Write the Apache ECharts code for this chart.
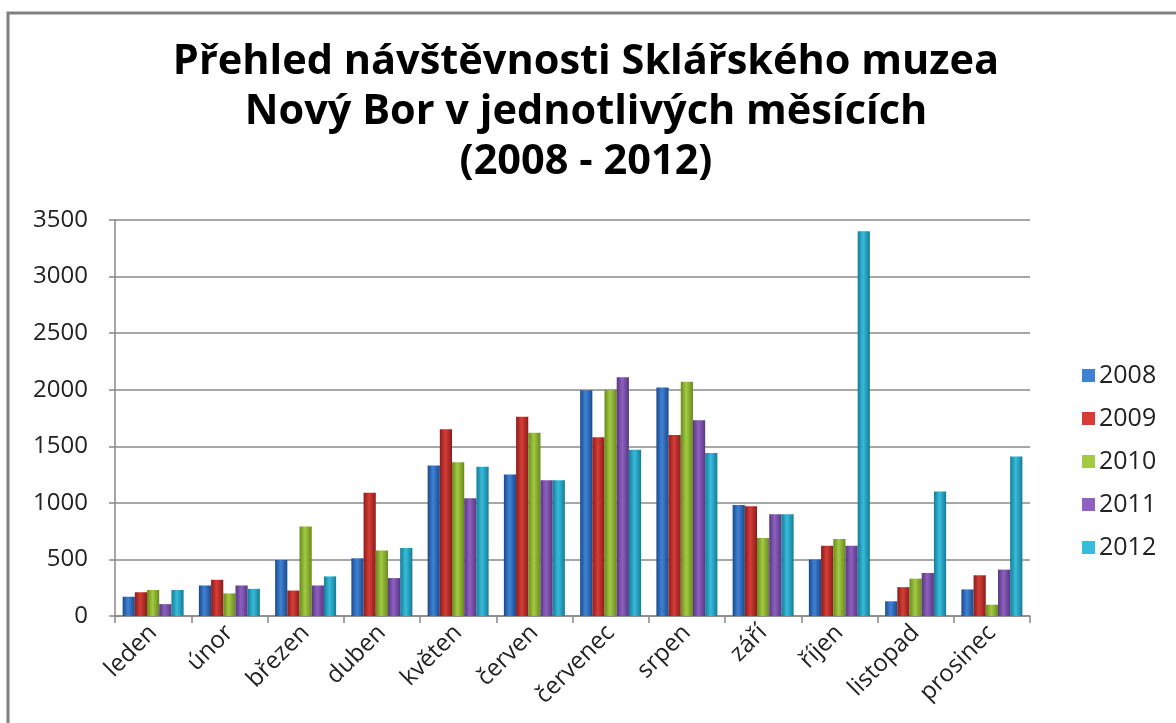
<!DOCTYPE html>
<html>
<head>
<meta charset="utf-8">
<script src="https://cdn.jsdelivr.net/npm/echarts@6/dist/echarts.min.js"></script>
<style>
html,body{margin:0;padding:0;background:#fff;}
#chart{width:1176px;height:723px;}
</style>
</head>
<body>
<div id="chart"></div>
<script>
const months = ['leden','únor','březen','duben','květen','červen','červenec','srpen','září','říjen','listopad','prosinec'];
const years = ['2008','2009','2010','2011','2012'];
const v2008 = [170, 270, 495, 510, 1330, 1250, 1995, 2020, 980, 500, 130, 235];
const v2009 = [210, 320, 225, 1090, 1650, 1760, 1580, 1600, 970, 620, 255, 360];
const v2010 = [230, 200, 790, 580, 1360, 1620, 2000, 2070, 690, 680, 330, 100];
const v2011 = [105, 270, 270, 335, 1040, 1200, 2110, 1730, 900, 620, 380, 410];
const v2012 = [230, 240, 350, 600, 1320, 1200, 1470, 1440, 900, 3400, 1100, 1410];
const yTicks = [0, 500, 1000, 1500, 2000, 2500, 3000, 3500];
const seriesValues = [v2008, v2009, v2010, v2011, v2012];
const titleLines = ['Přehled návštěvnosti Sklářského muzea', 'Nový Bor v jednotlivých měsících', '(2008 - 2012)'];

const palette = [
  ['#1b4a8e', '#3f82d4', '#1b4a8e'],
  ['#8a1d1a', '#d63d37', '#8a1d1a'],
  ['#688a1c', '#a4c942', '#688a1c'],
  ['#573782', '#8e60bf', '#573782'],
  ['#157c97', '#37bcdb', '#157c97']
];
function grad(c){
  return new echarts.graphic.LinearGradient(0,0,1,0,[
    {offset:0,color:c[0]},{offset:0.45,color:c[1]},{offset:1,color:c[2]}
  ]);
}

const chart = echarts.init(document.getElementById('chart'));
const font = '"Open Sans", Lato, sans-serif';
chart.setOption({
  animation:false,
  backgroundColor:'#fff',
  graphic:[
    {type:'rect', shape:{x:8,y:13,width:1300,height:800}, style:{fill:'none', stroke:'#808080', lineWidth:3}},
    {type:'text', x:586, y:37, style:{text:titleLines.join('\n'), fontFamily:font, fontWeight:'bold', fontSize:41.5, lineHeight:50, fill:'#000', align:'center', verticalAlign:'top'}}
  ],
  legend:{
    orient:'vertical', left:1077, top:358, itemGap:18, itemWidth:13, itemHeight:13,
    icon:'rect',
    textStyle:{fontFamily:font, fontSize:25, color:'#222', padding:[0,0,0,-1]},
    data: years.map((y,i)=>({name:y, itemStyle:{color:palette[i][1]}}))
  },
  grid:{left:115, right:146, top:220, bottom:107, containLabel:false},
  xAxis:{
    type:'category', data:months,
    axisLine:{lineStyle:{color:'#888', width:1.5}},
    axisTick:{show:true, length:7, lineStyle:{color:'#888', width:1.5}},
    axisLabel:{rotate:45, fontFamily:font, fontSize:24, color:'#222', margin:13, interval:0}
  },
  yAxis:{
    type:'value', min:yTicks[0], max:yTicks[yTicks.length-1], interval:500,
    axisLine:{show:true, lineStyle:{color:'#888', width:1.5}},
    axisTick:{show:true, length:6, lineStyle:{color:'#888', width:1.5}},
    axisLabel:{fontFamily:font, fontSize:24, color:'#222', margin:27, formatter:v=>String(v)},
    splitLine:{lineStyle:{color:'#8a8a8a', width:1.5}}
  },
  series: years.map((y,i)=>({
    name:y, type:'bar', data:seriesValues[i],
    barGap:'0%', barCategoryGap:'20%',
    itemStyle:{color:grad(palette[i])}
  }))
});
</script>
</body>
</html>
